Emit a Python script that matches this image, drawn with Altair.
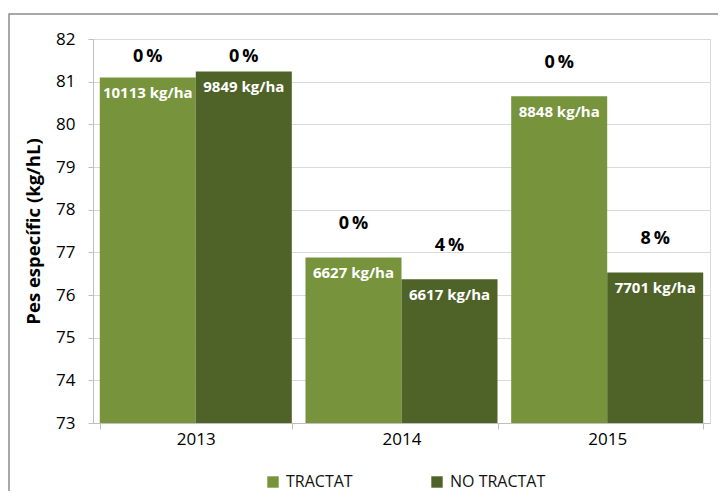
import altair as alt
import pandas as pd

years = ["2013", "2014", "2015"]
groups = ["TRACTAT", "NO TRACTAT"]
tractat = [81.10, 76.88, 80.66]
no_tractat = [81.24, 76.37, 76.53]
yield_tractat = ["10113 kg/ha", "6627 kg/ha", "8848 kg/ha"]
yield_no_tractat = ["9849 kg/ha", "6617 kg/ha", "7701 kg/ha"]
pct_tractat = ["0\u2009%", "0\u2009%", "0\u2009%"]
pct_no_tractat = ["0\u2009%", "4\u2009%", "8\u2009%"]
y_ticks = list(range(73, 83))

rows = []
for i, yr in enumerate(years):
    rows.append({"year": yr, "group": groups[0], "value": tractat[i],
                 "yld": yield_tractat[i], "pct": pct_tractat[i]})
    rows.append({"year": yr, "group": groups[1], "value": no_tractat[i],
                 "yld": yield_no_tractat[i], "pct": pct_no_tractat[i]})
df = pd.DataFrame(rows)

FONT = "Open Sans"
COLORS = ["#77933C", "#4F6228"]

x_enc = alt.X(
    "year:N", sort=years, title=None,
    scale=alt.Scale(paddingInner=0.0665, paddingOuter=0.033),
    axis=alt.Axis(labelAngle=0, labelFont=FONT, labelFontSize=17, labelColor="#000",
                  labelPadding=2, tickBand="extent", tickSize=6, tickColor="#BFBFBF",
                  domainColor="#BFBFBF", grid=False),
)
xo_enc = alt.XOffset("group:N", sort=groups, scale=alt.Scale(paddingInner=0, paddingOuter=0))
y_scale = alt.Scale(domain=[73, 82], nice=False, zero=False)

bars = alt.Chart(df).mark_bar(stroke=None).encode(
    x=x_enc,
    xOffset=xo_enc,
    y=alt.Y("value:Q", scale=y_scale, title="Pes específic (kg/hL)",
            axis=alt.Axis(values=y_ticks, labelFont=FONT, labelFontSize=17, labelColor="#000",
                          labelPadding=13, tickSize=5, tickColor="#BFBFBF", domainColor="#BFBFBF",
                          gridColor="#D9D9D9", titleFont=FONT, titleFontSize=18.5,
                          titleFontWeight="bold", titleColor="#000", titlePadding=12)),
    y2=alt.datum(73),
    color=alt.Color("group:N", sort=groups, title=None,
                    scale=alt.Scale(domain=groups, range=COLORS),
                    legend=alt.Legend(orient="none", legendX=172, legendY=435,
                                      direction="horizontal", symbolType="square",
                                      symbolSize=130, symbolStrokeWidth=0, labelFont=FONT,
                                      labelFontSize=16, labelColor="#111", columnPadding=76,
                                      labelOffset=5)),
)

yld = alt.Chart(df).mark_text(font=FONT, fontSize=15, fontWeight="bold", color="white",
                              baseline="middle", dy=16).encode(
    x=alt.X("year:N", sort=years),
    xOffset=xo_enc,
    y=alt.Y("value:Q", scale=y_scale),
    text="yld:N",
)

pct = alt.Chart(df).transform_calculate(
    ly="min(datum.value + 0.78, 81.57)"
).mark_text(font=FONT, fontSize=18, fontWeight="bold", color="#000",
            baseline="middle").encode(
    x=alt.X("year:N", sort=years),
    xOffset=xo_enc,
    y=alt.Y("ly:Q", scale=y_scale),
    text="pct:N",
)

frame = alt.Chart(pd.DataFrame({"k": [0]})).mark_rect(
    fill=None, stroke="#8C8C8C", strokeWidth=1.5, clip=False
).encode(
    x=alt.value(-84), x2=alt.value(700), y=alt.value(-25), y2=alt.value(500)
)

chart = alt.layer(frame, bars, yld, pct).properties(
    width=617, height=384,
    autosize=alt.AutoSizeParams(type="none"),
    padding={"left": 85, "top": 31, "right": 8, "bottom": 68},
    background="white",
).configure_view(stroke="#D9D9D9").configure_axis(domainWidth=1)

chart.save("out.html", embed_options={"renderer": "svg", "actions": False})
